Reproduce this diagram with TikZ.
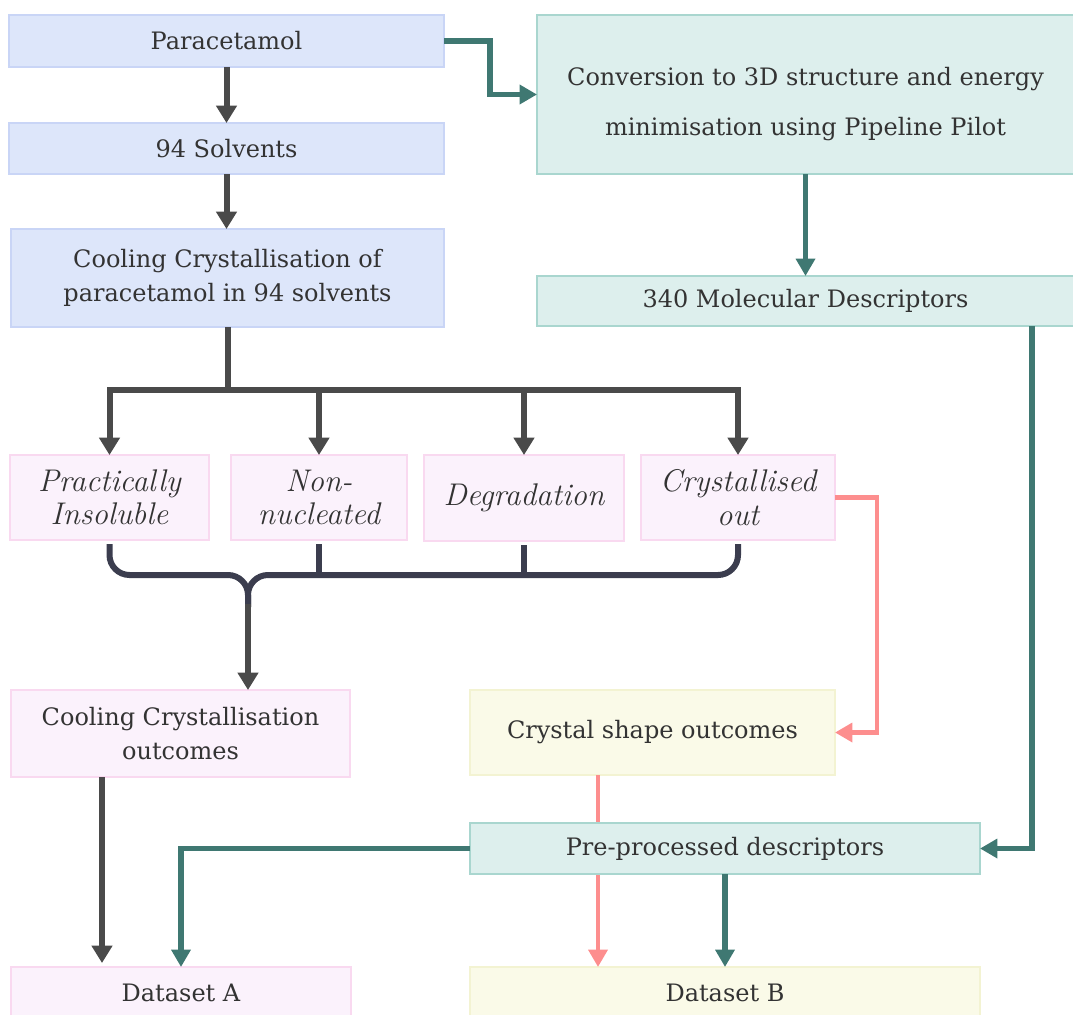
\documentclass[tikz,border=0pt]{standalone}
\usepackage{fontspec}
\newfontfamily\slab{DejaVu Serif}
\usetikzlibrary{arrows.meta}

\definecolor{bluefill}{HTML}{DDE6FA}
\definecolor{blueline}{HTML}{C9D5F6}
\definecolor{tealfill}{HTML}{DDEFED}
\definecolor{tealline}{HTML}{A9D6CF}
\definecolor{pinkfill}{HTML}{FBF2FC}
\definecolor{pinkline}{HTML}{F9D9F0}
\definecolor{yellowfill}{HTML}{FAFAE8}
\definecolor{yellowline}{HTML}{F3F3D2}
\definecolor{greyarrow}{HTML}{4A4A4A}
\definecolor{tealarrow}{HTML}{3F7872}
\definecolor{pinkarrow}{HTML}{FD8E8E}
\definecolor{bracecol}{HTML}{3B3D4E}
\definecolor{textcol}{HTML}{333333}

% box from corner (x1,y1) to (x2,y2), measured in picture units
\newcommand\flowbox[7]{%
  \node[#2, minimum width={(#5-#3)*0.75pt}, minimum height={(#6-#4)*0.75pt}]
    (#1) at ({(#3+#5)/2},{(#4+#6)/2}) {#7};}

\tikzset{
  basebox/.style={rectangle, inner sep=0pt, outer sep=0pt, line width=0.9pt,
    text=textcol, align=center, font=\slab\fontsize{18}{25}\selectfont},
  bluebox/.style={basebox, fill=bluefill, draw=blueline},
  tealbox/.style={basebox, fill=tealfill, draw=tealline},
  pinkbox/.style={basebox, fill=pinkfill, draw=pinkline},
  yellowbox/.style={basebox, fill=yellowfill, draw=yellowline},
  itbox/.style={pinkbox, font=\itshape\fontsize{23.5}{25}\selectfont},
  gline/.style={draw=greyarrow, line width=4.5pt},
  garrow/.style={gline, -{Triangle[width=15pt,length=13pt]}},
  tline/.style={draw=tealarrow, line width=4pt},
  tarrow/.style={tline, -{Triangle[width=14pt,length=13pt]}},
  parrow/.style={draw=pinkarrow, line width=3.6pt, -{Triangle[width=14pt,length=13pt]}},
  bracestyle/.style={draw=bracecol, line width=4.5pt, rounded corners=15pt},
}

\begin{document}
\begin{tikzpicture}[x=0.75pt, y=-0.75pt]
\useasboundingbox (0,0) rectangle (1073,1014);

% left column
\flowbox{para}{bluebox}{9}{15}{444}{67}{Paracetamol}
\flowbox{solv}{bluebox}{9}{123}{444}{174}{94 Solvents}
\flowbox{cool}{bluebox}{11}{229}{444}{327}{Cooling Crystallisation of\\paracetamol in 94 solvents}

% right column
\flowbox{conv}{tealbox}{537}{15}{1074}{174}{\rule{0pt}{28pt}Conversion to 3D structure and energy\\[12.5pt]minimisation using Pipeline Pilot}
\flowbox{mol}{tealbox}{537}{276}{1074}{326}{340 Molecular Descriptors}

% outcome categories
\flowbox{insol}{itbox}{10}{455}{209}{540}{Practically\\Insoluble}
\flowbox{nonnuc}{itbox}{231}{455}{407}{540}{Non-\\nucleated}
\flowbox{degr}{itbox}{424}{455}{624}{541}{Degradation}
\flowbox{crys}{itbox}{641}{455}{835}{540}{Crystallised\\out}

% lower boxes
\flowbox{coolout}{pinkbox}{11}{690}{350}{777}{Cooling Crystallisation\\outcomes}
\flowbox{shape}{yellowbox}{470}{690}{835}{775}{Crystal shape outcomes}
\flowbox{dsA}{pinkbox}{11}{967}{351}{1018}{Dataset A}
\flowbox{dsB}{yellowbox}{470}{967}{980}{1018}{Dataset B}

% helper coordinates
\coordinate (split) at (0,390);
\coordinate (cusp) at (248,0);
\coordinate (braceY) at (0,575);
\coordinate (pinkX) at (877,0);
\coordinate (pinkV) at (598,0);
\coordinate (rightX) at (1032,0);
\coordinate (greyX) at (102,0);

% crystal shapes feed Dataset B (passes beneath the descriptor box)
\draw[parrow] (shape.south -| pinkV) -- (dsB.north -| pinkV);

\flowbox{pre}{tealbox}{470}{823}{980}{874}{Pre-processed descriptors}

% grey flow
\draw[garrow] (para) -- (solv);
\draw[garrow] (solv) -- (solv |- cool.north);
\draw[gline] (cool.south) -- (cool.south |- split);
\draw[gline, line cap=rect] (insol |- split) -- (crys |- split);
\foreach \n in {insol,nonnuc,degr,crys}
  \draw[garrow] (\n |- split) -- (\n.north);

% brace gathering the four outcomes
\draw[bracestyle] ([yshift=-3pt]insol.south) -- (insol |- braceY) -- (cusp |- braceY) -- ([yshift=-24pt]cusp |- braceY);
\draw[bracestyle] ([yshift=-3pt]crys.south) -- (crys |- braceY) -- (cusp |- braceY) -- ([yshift=-24pt]cusp |- braceY);
\draw[draw=bracecol, line width=4.5pt] ([yshift=-3pt]nonnuc.south) -- (nonnuc |- braceY);
\draw[draw=bracecol, line width=4.5pt] ([yshift=-3pt]degr.south) -- (degr |- braceY);
\draw[garrow] ([yshift=-22pt]cusp |- braceY) -- (coolout.north -| cusp);

\draw[garrow, shorten >=3pt] (coolout.south -| greyX) -- (dsA.north -| greyX);

% descriptor flow
\draw[tarrow] (para.east) -- ++(46,0) |- (conv.west);
\draw[tarrow] (conv) -- (mol);
\draw[tarrow] (mol.south -| rightX) |- (pre.east);
\draw[tarrow] (pre.west) -| (dsA.north);
\draw[tarrow] (pre) -- (dsB);

% crystallised samples to crystal shape outcomes
\draw[parrow] (crys.east) -- (crys.east -| pinkX) |- (shape.east);
\end{tikzpicture}
\end{document}
